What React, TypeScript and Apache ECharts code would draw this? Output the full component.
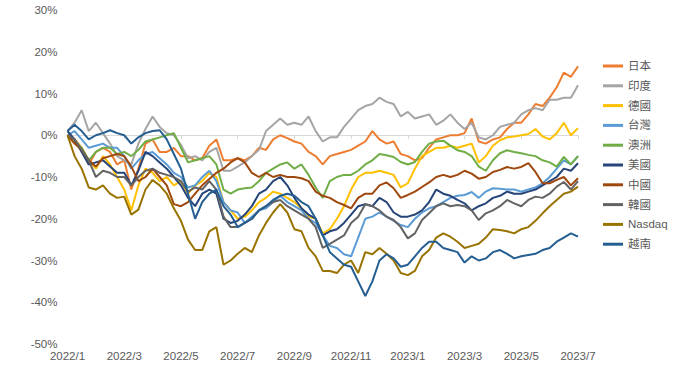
import React, { useEffect, useRef } from "react";
import * as echarts from "echarts";

// weekly observation dates (approx. quarter-month steps) from 2022/1 to 2023/7
const dates: string[] = [];
for (let i = 0; i <= 72; i++) {
  const m = Math.floor(i / 4);
  const y = 2022 + Math.floor(m / 12);
  const mo = (m % 12) + 1;
  const d = [1, 8, 16, 23][i % 4];
  dates.push(`${y}/${mo}/${d}`);
}

const seriesNames = ["日本", "印度", "德國", "台灣", "澳洲", "美國", "中國", "韓國", "Nasdaq", "越南"];
const seriesColors = ["#ED7D31", "#A5A5A5", "#FFC000", "#5B9BD5", "#70AD47", "#264478", "#9E480E", "#636363", "#997300", "#255E91"];

const japan = [0, -1, -3, -7, -4, -3, -4, -7, -6, -13, -8, -2, -1, -4, -4, -3, -5, -5, -6, -5.5, -2.5, -1, -6, -6, -5.5, -6, -5, -3, -3.5, -1, 0, -0.7, -1.5, -2, -4, -5, -7, -5, -4.5, -4, -3.5, -2.5, -1.5, 1, -1, -2, -1.5, -4.5, -5, -6, -5.5, -3, -1, -0.5, 0, 0, 0.5, 4, -1.5, -2, -1, -0.5, 1.5, 3, 3, 5, 7.5, 7, 9, 11.5, 15, 14, 16.5];
const india = [1, 3, 6, 1, 3, 0.5, -2, -5, -6, -7, -2, 1.5, 4.5, 2, 0.5, 0, -2.3, -5.5, -5, -6, -4, -3, -8.5, -8.5, -7.5, -6.5, -5, -3.5, 1, 2.5, 4, 2.5, 3, 2.5, 4.5, 1, -1.5, -0.5, -0.5, 2, 4, 6, 7, 7.5, 9, 8, 7.5, 4.5, 5.6, 4, 4.5, 5, 2.5, 3.5, 5, 3, 1.5, 3, -0.5, -1, 0, 2, 2.5, 3, 5, 6, 6.5, 6, 8.5, 8.5, 9, 9, 12];
const germany = [0, -1, -3, -6, -8, -5, -7, -10, -13, -18, -12, -8, -9, -11, -10, -12, -11, -14, -12, -11, -9, -10, -16, -18, -20, -19.5, -18, -16, -15, -13.5, -14, -15, -16, -17.5, -19.5, -20, -23.5, -22.5, -20, -17, -13, -10, -9, -9, -8.5, -9, -9.5, -12.5, -11.5, -8, -5, -4, -3, -3, -2.5, -3, -2.5, -2, -6.5, -5, -2.5, -1.2, -0.5, -0.3, 0, 0.3, 1.5, -0.3, -1, 0.5, 3, 0, 1.7];
const taiwan = [0, 1, -1, -3, -2.5, -2, -3, -3, -5, -8, -6, -4.5, -4, -5.5, -7, -9, -10, -12.5, -12, -10, -8.5, -11, -16, -18, -18.5, -21, -19.5, -18, -17.5, -16, -14.5, -16, -17, -18, -20, -21, -24, -26.5, -27, -28.5, -29, -24.5, -20, -19.5, -18.5, -19.5, -20.5, -21.5, -22, -20, -18.5, -17.5, -17, -16, -15, -14.5, -14.3, -13.6, -15, -13.5, -12.7, -12.8, -13, -13, -13.5, -13, -12.5, -11.5, -10, -8, -6, -7, -5];
const australia = [0, -1.5, -3, -6, -4, -3, -3, -4.5, -4, -5, -3.5, -1.5, -1, -0.5, 0, 0.5, -3, -6.5, -6, -5.5, -5, -7, -13, -14, -13, -12.7, -12.5, -11, -9, -8, -7, -6.5, -8, -7, -9.5, -12.5, -15, -11, -10, -9.5, -9.5, -8.5, -7, -6, -4.5, -4.8, -5.2, -6.4, -7, -6.4, -4, -2, -1.5, -1.3, -2.5, -3.6, -4, -5, -7.5, -8.5, -6, -4.3, -3.6, -4, -4.3, -4.7, -5, -6, -6.5, -7.5, -5.2, -7, -5];
const usa = [1, -1, -4, -7, -6.5, -6, -7.5, -9, -9, -12, -8.5, -4, -5, -6.5, -8, -10, -12, -15, -17, -14, -13, -14, -20, -21, -20.5, -19, -17, -14, -13, -11, -10, -12, -15, -17.5, -19, -20, -24, -23, -22.5, -21, -19, -17, -16.5, -17, -15, -16, -18.5, -19.5, -19.5, -19, -18, -16, -13, -14, -14.5, -15.5, -16.3, -18, -17, -16.3, -15, -14.5, -13.5, -14, -14, -13.5, -13, -12, -11, -10, -8, -8.5, -6.7];
const china = [0, -2, -3.5, -6, -7.5, -5.5, -5, -4.5, -5, -7.5, -11, -10, -8, -10, -12, -16.5, -17, -16, -14, -12, -10.5, -9, -8, -6.5, -5.5, -6.5, -9, -10, -9, -10, -9.5, -10, -10, -10.3, -11, -13.5, -14.5, -15, -16, -16.7, -17.5, -15, -14, -14, -12, -11.3, -12.7, -15, -14.3, -13.5, -12.4, -11.3, -10, -9.5, -10, -9.5, -8.5, -9.2, -10.4, -10, -8.8, -8.3, -7.6, -8, -7.6, -6.7, -8.8, -11.5, -11.5, -10.7, -10, -12, -10.3];
const korea = [0, -1, -3.5, -6, -10, -8.5, -9, -10, -10, -12, -10, -8.5, -8, -9, -9.5, -10, -11, -13.5, -12.5, -13, -11, -13, -19.5, -22, -22, -21, -20, -18, -17, -16, -15.5, -17, -18, -19, -20, -22, -27, -26, -25, -24, -21, -19.5, -16.5, -17, -18, -19.5, -20.3, -22, -24.7, -23.5, -20.3, -18.7, -17, -16.3, -17, -16.7, -17, -18, -20.3, -18.7, -18, -17, -15.5, -16.3, -17, -15.5, -14.7, -15, -14, -12.3, -11.2, -13, -11];
const nasdaq = [0, -5, -8, -12.5, -13, -12, -14, -15, -14.7, -19, -17.8, -13, -10.7, -12, -14, -17.5, -20.5, -25, -27.5, -27.5, -23, -22, -31, -30, -28.4, -27, -28, -24, -21, -18.5, -16.5, -18.5, -22.5, -23, -27, -29, -32.5, -32.5, -33, -31, -30, -33, -28, -28.5, -27, -28.4, -30, -33, -33.5, -32.5, -29, -27.5, -24.5, -23.5, -24.3, -25.5, -27, -26.5, -26, -24.5, -22.5, -22.7, -23, -23.5, -22.5, -22, -20.5, -18.7, -17, -15.5, -14, -13.5, -12.3];
const vietnam = [1, 2.5, 1, -1, 0, 0.5, 1.2, 0.5, 0, -2, -0.5, 0.5, 1, 1.2, -1, -4.5, -8, -14, -20, -16, -14, -13, -17, -19, -22, -21, -20, -18, -17, -15.5, -14.5, -14, -14.5, -16, -17, -20, -24, -28, -29.5, -31, -31.5, -35, -38.5, -35, -30, -28.5, -29.5, -31.5, -31, -29, -27, -25.5, -25.5, -27, -27.5, -28, -30.5, -29, -30, -29.5, -28, -27.5, -28.4, -29.5, -29, -28.7, -28.4, -27.5, -27, -25.5, -24.5, -23.5, -24.3];

const seriesValues = [japan, india, germany, taiwan, australia, usa, china, korea, nasdaq, vietnam];

const yTicks = { min: -50, max: 30, interval: 10 };

const FONT = 'Arial, "Liberation Sans", "Noto Sans CJK TC", sans-serif';
const TEXT = "#595959";

export default function App() {
  const ref = useRef<HTMLDivElement>(null);
  useEffect(() => {
    if (!ref.current) return;
    const chart = echarts.init(ref.current, undefined, { renderer: "svg" });
    const labelFmt = (v: string) => v.split("/").slice(0, 2).join("/");
    chart.setOption({
      animation: false,
      textStyle: { fontFamily: FONT },
      grid: { left: 67.5, right: 99, top: 10, bottom: 25 },
      legend: {
        orient: "vertical",
        left: 598,
        top: 54,
        itemWidth: 20,
        itemHeight: 3,
        itemGap: 5.8,
        icon: "rect",
        textStyle: { color: TEXT, fontSize: 11.5, lineHeight: 14, fontFamily: FONT },
        data: seriesNames,
      },
      xAxis: [
        {
          type: "category",
          data: dates,
          boundaryGap: false,
          position: "bottom",
          axisLine: { onZero: true, lineStyle: { color: "#D9D9D9", width: 1 } },
          axisTick: { show: true, length: 4, interval: (i: number) => i % 8 === 0, lineStyle: { color: "#D9D9D9" } },
          axisLabel: { show: false },
          splitLine: { show: false },
        },
        {
          type: "category",
          data: dates,
          boundaryGap: false,
          position: "bottom",
          axisLine: { show: false, onZero: false },
          axisTick: { show: false },
          axisLabel: {
            interval: (i: number) => i % 8 === 0,
            formatter: labelFmt,
            color: TEXT,
            fontSize: 11.5,
            margin: 6,
            fontFamily: FONT,
          },
          splitLine: { show: false },
        },
      ],
      yAxis: {
        type: "value",
        min: yTicks.min,
        max: yTicks.max,
        interval: yTicks.interval,
        axisLine: { show: false },
        axisTick: { show: false },
        splitLine: { show: false },
        axisLabel: { formatter: "{value}%", color: TEXT, fontSize: 11.5, margin: 10, fontFamily: FONT },
      },
      series: seriesNames.map((name, k) => ({
        name,
        type: "line",
        xAxisIndex: 0,
        data: seriesValues[k],
        showSymbol: false,
        symbol: "none",
        color: seriesColors[k],
        lineStyle: { width: 2, color: seriesColors[k] },
      })),
    });
    return () => chart.dispose();
  }, []);
  return <div ref={ref} style={{ position: "fixed", left: 0, top: 0, width: 677, height: 369, background: "#fff" }} />;
}
